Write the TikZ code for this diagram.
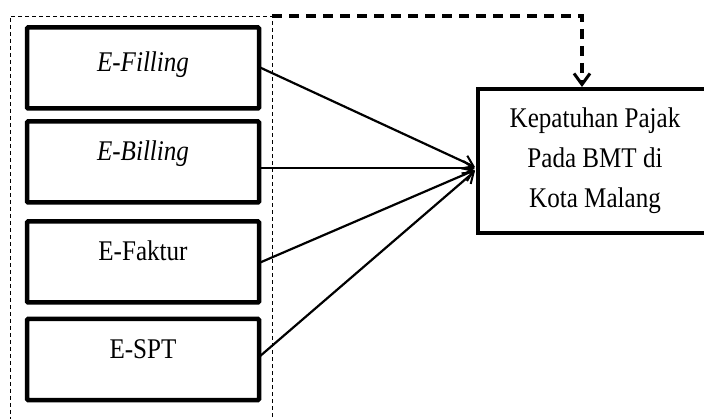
\documentclass[tikz,border=0pt]{standalone}
\usepackage{fontspec}
\setmainfont[FakeStretch=0.88]{Liberation Serif}
\usetikzlibrary{arrows.meta}
\begin{document}
\begin{tikzpicture}[x=1pt,y=-1pt,
  every node/.style={font=\fontsize{28.5}{40}\selectfont, outer sep=0pt},
  varbox/.style={draw, line width=4.5pt, rounded corners=1pt, minimum width=232pt, minimum height=81pt, inner sep=0pt, text height=20pt, text depth=22pt},
  depbox/.style={draw, line width=4.5pt, minimum width=234pt, minimum height=144pt, inner sep=0pt, align=center},
  grpbox/.style={draw, line width=0.9pt, dash pattern=on 4pt off 3pt, minimum width=262pt, minimum height=440pt, inner sep=0pt},
  arr/.style={line width=2.2pt, -{Straight Barb[length=10pt,width=14pt,line width=2pt]}},
  darr/.style={line width=3.8pt, dash pattern=on 10pt off 7pt, -{Straight Barb[length=11pt,width=16pt,line width=3pt]}}
]
\useasboundingbox (0,0) rectangle (704,419);
\node[grpbox, anchor=north west] (grp) at (10,16) {};
\node[varbox, text height=20pt, text depth=12pt] (f1) at (143,68) {\textit{E-Filling}};
\node[varbox] (f2) at (143,162) {\textit{E-Billing}};
\node[varbox] (f3) at (143,262) {E-Faktur};
\node[varbox] (f4) at (143,359.5) {E-SPT};
\node[depbox] (r) at (595,161) {Kepatuhan Pajak\\Pada BMT di\\Kota Malang};
\coordinate (e1) at (475,167);
\coordinate (e2) at (475,168);
\coordinate (e3) at (475,170);
\coordinate (e4) at (475,171);
\coordinate (rt) at (582,87);
\draw[arr] (f1.east |- 0,67) -- (e1);
\draw[arr] (f2.east |- 0,168) -- (e2);
\draw[arr] (f3.east |- 0,263) -- (e3);
\draw[arr] (f4.east |- 0,357) -- (e4);
\draw[darr] (grp.north east) -| (rt);
\end{tikzpicture}
\end{document}
